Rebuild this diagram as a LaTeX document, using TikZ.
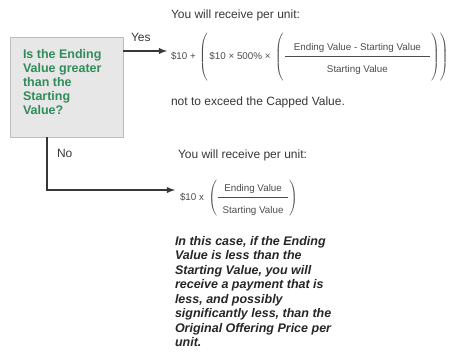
\documentclass[tikz,border=0pt]{standalone}
\usepackage{amsmath}
\usepackage{fontspec}
\setmainfont{Liberation Sans}
\usepackage{tikz}
\usetikzlibrary{positioning, arrows}
\definecolor{askgreen}{RGB}{48,140,90}
\definecolor{askgray}{RGB}{231,231,231}
\definecolor{edgegray}{RGB}{190,190,190}
\definecolor{inkgray}{RGB}{55,55,55}
\tikzset{
        >=latex, % filled arrow heads
        every node/.style={inner sep=0pt, outer sep=0pt}, % nodes sit tight on their text
        question/.style={draw=edgegray, fill=askgray, line width=0.8bp, inner xsep=13bp, inner ysep=12bp,
          text=askgreen, font=\fontsize{12.5bp}{14bp}\selectfont\bfseries}, % the decision box
        plain/.style={anchor=west, text=inkgray, font=\fontsize{12bp}{14bp}\selectfont}, % normal text
        formula/.style={anchor=west, text=black!70, font=\fontsize{9.8bp}{12bp}\selectfont}, % payout formulas
        note/.style={anchor=north west, align=left, text=black!85,
          font=\fontsize{12.5bp}{14.5bp}\selectfont\bfseries\itshape}, % the warning text
        branch/.style={->, line width=1.8bp, draw=inkgray}, % yes and no arrows
    }

\begin{document}
\begin{tikzpicture}[x=1bp, y=-1bp]
    \useasboundingbox (0,0) rectangle (456,356);
    \node[question, anchor=north west] (q) at (10,37)
      {\parbox[c][76bp][t]{87bp}{Is the Ending\\Value greater\\than the\\Starting\\Value?}};

    % yes branch
    \coordinate (yestip) at (167,51);
    \draw[branch] (q.east |- yestip) -- (yestip);
    \node[plain] (yes) at (131,37) {Yes};
    \node[plain] (yesunit) at (171,15) {You will receive per unit:};
    \node[formula] (yesform) at (171,57)
      {$\text{\$10 +}\,\left(\,\text{\$10 × 500\% ×}\ \left(\genfrac{}{}{1.2bp}{0}
        {\hspace{9bp}\text{Ending Value - Starting Value}\hspace{9bp}}
        {\rule{0pt}{12bp}\text{Starting Value}}\rule[-22bp]{0pt}{46bp}\right)\right)$};
    \node[plain] (cap) at (171,102) {not to exceed the Capped Value.};

    % no branch
    \coordinate (nocorner) at (47,190);
    \coordinate (notip) at (175,190);
    \draw[branch] (q.south -| nocorner) -- (nocorner) -- (notip);
    \node[plain] (no) at (57,153) {No};
    \node[plain] (nounit) at (178,155) {You will receive per unit:};
    \node[formula] (noform) at (180,198)
      {$\text{\$10 x}\ \left(\genfrac{}{}{1.2bp}{0}
        {\hspace{6bp}\text{Ending Value}\hspace{6bp}}
        {\rule{0pt}{12bp}\hspace{4bp}\text{Starting Value}\hspace{4bp}}\rule[-16bp]{0pt}{34bp}\right)$};
    \node[note] (warn) at (175,236)
      {In this case, if the Ending\\Value is less than the\\Starting Value, you will\\receive a payment that is\\less, and possibly\\significantly less, than the\\Original Offering Price per\\unit.};
\end{tikzpicture}
\end{document}
